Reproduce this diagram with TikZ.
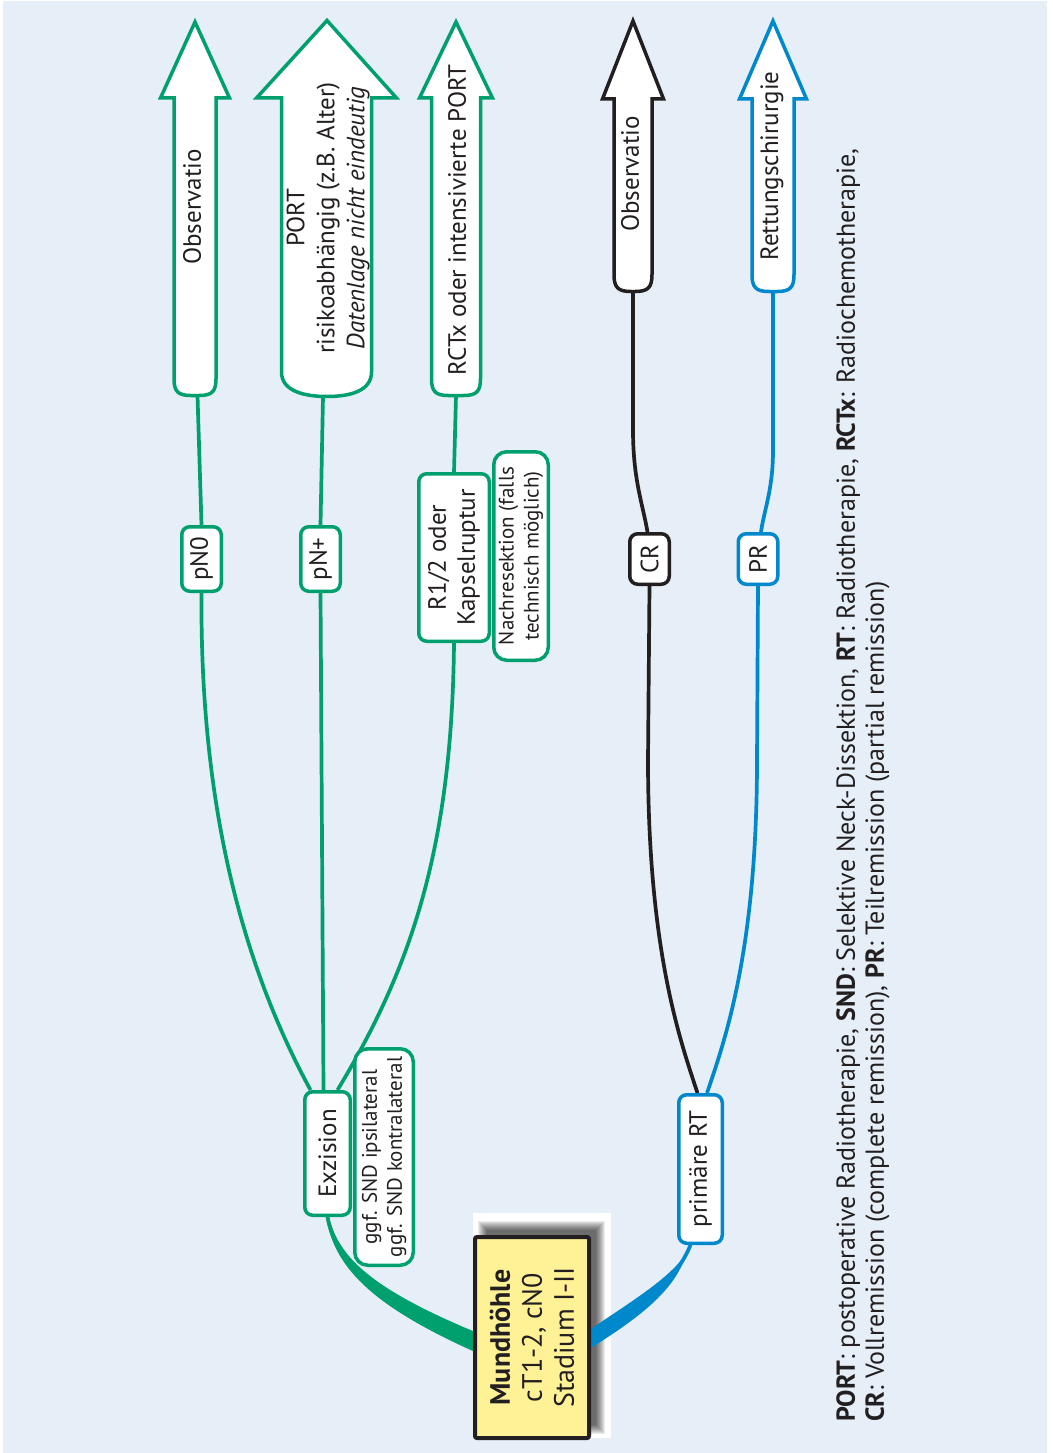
\documentclass[tikz,border=0pt]{standalone}
\usepackage{fontspec}
\setmainfont{PT Sans}
\newfontfamily\legendfont{PT Sans}
\usetikzlibrary{calc}
\definecolor{bgblue}{RGB}{230,238,248}
\definecolor{grn}{RGB}{0,160,110}
\definecolor{blu}{RGB}{0,136,204}
\definecolor{blk}{RGB}{35,31,32}
\definecolor{ylw}{RGB}{255,242,150}
\pgfdeclarelayer{bg}
\pgfdeclarelayer{links}
\pgfsetlayers{bg,links,main}

\tikzset{
  lbl/.style={rotate=90, text=blk, font=\fontsize{25}{30}\selectfont, align=center, inner sep=0pt},
  tag/.style={rotate=90, draw, fill=white, text=blk, line width=3.5pt, rounded corners=8pt,
              font=\fontsize{25}{29}\selectfont, align=center, inner sep=0pt},
  note/.style={tag, rounded corners=13pt, font=\fontsize{21}{25}\selectfont},
  link/.style={line width=3.7pt},
  arrowshape/.style={line width=3.5pt, fill=white, line join=miter},
}

% upward block arrow with rounded tail: colour, centre x, tip y, head base y,
% half head width, half shaft width, tail y, name of tail coordinate
\newcommand\flowarrow[8]{%
  \draw[arrowshape, draw=#1] (#2,#3) -- ({#2+#5},#4) -- ({#2+#6},#4)
    -- ({#2+#6},{#7-17}) .. controls ({#2+#6},{#7-4}) and ({#2+#6-4},#7) .. ({#2+#6-17},#7)
    -- ({#2-#6+17},#7) .. controls ({#2-#6+4},#7) and ({#2-#6},{#7-4}) .. ({#2-#6},{#7-17})
    -- ({#2-#6},#4) -- ({#2-#5},#4) -- cycle;
  \coordinate (#8) at (#2,#7);
}

\begin{document}
\begin{tikzpicture}[x=1pt,y=-1pt]
\useasboundingbox (0,0) rectangle (1052,1453);
\begin{pgfonlayer}{bg}
  \fill[bgblue] (3,1) rectangle (1047,1453);
\end{pgfonlayer}

% outcome arrows
\flowarrow{grn}{195}{22}{98}{34.5}{21}{395.5}{obsGarrow}
\coordinate (obsGend) at (197.5,395.5);
\draw[arrowshape, draw=grn] (327,20.5) -- (396.5,98) -- (371.5,98) -- (371.5,372)
   .. controls (371.5,391) and (350,396.5) .. (327,396.5)
   .. controls (304,396.5) and (281.5,391) .. (281.5,372) -- (281.5,98) -- (256.5,98) -- cycle;
\coordinate (portend) at (323,396.5);
\flowarrow{grn}{456}{22}{98}{36.5}{24.5}{395.5}{rctxend}
\flowarrow{blk}{633}{21}{99}{30.5}{19}{291.5}{obsBend}
\flowarrow{blu}{773}{21}{99}{33.5}{21}{291.5}{rettend}

\node[lbl] (obsG) at (192,207) {Observatio};
\node[lbl] (port) at (328,218) {PORT\\risikoabhängig (z.B. Alter)\\\textit{Datenlage nicht eindeutig}};
\node[lbl] (rctx) at (457,220) {RCTx oder intensivierte PORT};
\node[lbl] (obsB) at (630,174) {Observatio};
\node[lbl] (rett) at (772,166) {Rettungschirurgie};

% decision boxes
\node[tag, draw=grn, minimum width=64.5pt, minimum height=39.5pt] (pN0) at (201.5,559) {pN0};
\node[tag, draw=grn, minimum width=64.5pt, minimum height=39.5pt] (pNp) at (320.5,559) {pN+};
\node[tag, draw=grn, minimum width=167.5pt, minimum height=70.5pt] (r12) at (454,557.5) {R1/2 oder\\Kapselruptur};
\node[note, draw=grn, minimum width=208.5pt, minimum height=54.5pt] (nach) at (521,556) {Nachresektion (falls\\technisch möglich)};
\node[tag, draw=grn, minimum width=123.5pt, minimum height=45.5pt] (exz) at (327.5,1153.5) {Exzision};
\node[note, draw=grn, minimum width=216.5pt, minimum height=58.5pt] (snd) at (384,1157) {ggf. SND ipsilateral\\ggf. SND kontralateral};
\node[tag, draw=blu, minimum width=148.5pt, minimum height=43.5pt] (prt) at (700.5,1169) {primäre RT};
\node[tag, draw=blk, minimum width=50.5pt, minimum height=39.5pt] (cr) at (649.5,559) {CR};
\node[tag, draw=blu, minimum width=50.5pt, minimum height=39.5pt] (pr) at (758,559) {PR};

% start box with soft shadow
\begin{pgfonlayer}{links}
  \fill[white] (473,1213) rectangle (611,1438);
  \foreach \i in {0,...,9}
    \fill[black, opacity=0.08] ({478+\i},{1221+\i}) rectangle ({605-\i},{1434-\i});
\end{pgfonlayer}
\node[rotate=90, draw=blk, fill=ylw, text=blk, line width=4pt, rounded corners=2pt, inner sep=0pt,
      align=center, font=\fontsize{28}{32}\selectfont, minimum width=201pt, minimum height=114pt]
      (mund) at (532,1337.5) {\textbf{Mundhöhle}\\cT1-2, cN0\\Stadium I-II};

% connectors
\begin{pgfonlayer}{links}
  \draw[link, grn] (obsGend) -- (pN0.east);
  \draw[link, grn] (pN0.west) .. controls (200,800) and (240,960) .. ([xshift=-17pt]exz.east);
  \draw[link, grn] (portend) -- (pNp.east);
  \draw[link, grn] (pNp.west) -- ([xshift=-4pt]exz.east);
  \draw[link, grn] (rctxend) -- (r12.east);
  \draw[link, grn] (r12.west) .. controls (452,850) and (410,970) .. ([xshift=10pt]exz.east);
  \draw[link, grn] (exz.west) .. controls (336,1262) and (372,1297) .. ($(mund.north)+(0,4)$);
  \fill[grn] ($(exz.west)+(1.5,0)$) .. controls (339,1259) and (375,1290) .. ($(mund.north)+(1,-6)$)
     -- ($(mund.north)+(1,14)$) .. controls (368,1304) and (334,1265) .. ($(exz.west)+(-1.5,0)$) -- cycle;

  \draw[link, blk] (obsBend) -- (633,430) .. controls (633,480) and (643,505) .. ([xshift=-2pt]cr.east);
  \draw[link, blk] (cr.west) -- (648,760) .. controls (648,950) and (680,1040) .. ([xshift=-3pt]prt.east);
  \draw[link, blu] (rettend) -- (773,450) .. controls (773,490) and (764,510) .. ([xshift=3pt]pr.east);
  \draw[link, blu] (pr.west) -- (757,760) .. controls (757,950) and (725,1040) .. ([xshift=6.5pt]prt.east);
  \draw[link, blu] ([xshift=-10pt]prt.west) .. controls (677,1278) and (650,1300) .. ($(mund.south)+(-1,1)$);
  \fill[blu] ([xshift=-8.5pt]prt.west) .. controls (675,1274) and (646,1292) .. ($(mund.south)+(-1,-8)$)
     -- ($(mund.south)+(-1,11)$) .. controls (655,1308) and (680,1282) .. ([xshift=-11.5pt]prt.west) -- cycle;
\end{pgfonlayer}

% legend
\node[rotate=90, anchor=north west, inner sep=0pt, align=left, text=blk,
      font=\legendfont\fontsize{26}{29}\selectfont] (legend) at (836,1422)
  {\textbf{PORT}: postoperative Radiotherapie, \textbf{SND}: Selektive Neck-Dissektion, \textbf{RT}: Radiotherapie, \textbf{RCTx}: Radiochemotherapie,\\
   \textbf{CR}: Vollremission (complete remission), \textbf{PR}: Teilremission (partial remission)};
\end{tikzpicture}
\end{document}
